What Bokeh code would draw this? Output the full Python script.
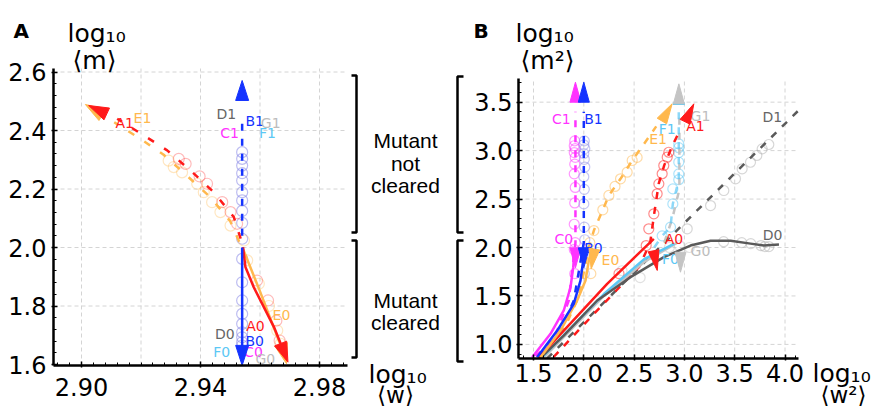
import numpy as np
from bokeh.plotting import figure
from bokeh.models import Range1d, FixedTicker, LinearAxis, PrintfTickFormatter
from bokeh.embed import file_html
from bokeh.resources import INLINE
from bokeh.core.properties import value

RED = "#ff1a1a"; ORANGE = "#ffb84d"; BLUE = "#1433ff"; MAGENTA = "#ff33ff"
LBLUE = "#5cc8f5"; DGRAY = "#5a5a5a"; LGRAY = "#c4c4c4"; CIRC = "#8f8fe8"
LABCOL = {"A": RED, "B": BLUE, "C": MAGENTA, "D": "#666666", "E": ORANGE, "F": LBLUE, "G": "#bdbdbd"}
SERCOL = {"A": RED, "B": BLUE, "C": MAGENTA, "D": DGRAY, "E": ORANGE, "F": LBLUE, "G": LGRAY}

# ---------------- Panel A data: x = log10<w>, y = log10<m> ----------------
a_vert_x = 2.954
a_blue_circ_y = [2.326, 2.303, 2.280, 2.254, 2.229, 2.189, 2.161, 2.125, 2.084, 2.030,
                 1.961, 1.881, 1.819, 1.773, 1.739, 1.710, 1.693, 1.676, 1.665]
a_red_circ_x = [2.9327, 2.9350, 2.9397, 2.9422, 2.9473, 2.9501, 2.9523, 2.9590, 2.9627, 2.9655, 2.9666]
a_red_circ_y = [2.303, 2.286, 2.243, 2.218, 2.155, 2.121, 2.081, 1.887, 1.819, 1.750, 1.682]
a_or_circ_x = [2.9293, 2.9310, 2.9338, 2.9389, 2.9411, 2.9439, 2.9467, 2.9501, 2.9546, 2.9557, 2.9596, 2.9630, 2.9658, 2.9669]
a_or_circ_y = [2.297, 2.275, 2.257, 2.218, 2.189, 2.155, 2.121, 2.075, 2.024, 1.956, 1.876, 1.800, 1.716, 1.671]

a_red_up_x = [2.9535, 2.9512, 2.9445, 2.9370, 2.9288, 2.9210, 2.9120]
a_red_up_y = [2.030, 2.104, 2.189, 2.260, 2.332, 2.383, 2.440]
a_or_up_x = [2.9530, 2.9500, 2.9430, 2.9355, 2.9275, 2.9200, 2.9110]
a_or_up_y = [2.020, 2.090, 2.175, 2.245, 2.318, 2.370, 2.428]
a_red_dn_x = [2.9543, 2.9551, 2.9579, 2.9613, 2.9647, 2.9670]
a_red_dn_y = [2.001, 1.933, 1.864, 1.796, 1.728, 1.670]
a_or_dn_x = [2.9543, 2.9600, 2.9660, 2.9676]
a_or_dn_y = [1.995, 1.850, 1.690, 1.650]
a_blue_dn_y = [2.000, 1.660]
a_blue_up_y = [2.040, 2.450]

a_head_tip_x = [2.9013, 2.9024, 2.9689, 2.9694, 2.954, 2.954]
a_head_tip_y = [2.489, 2.4855, 1.603, 1.608, 1.597, 2.571]
a_head_from_x = [2.9110, 2.9120, 2.9676, 2.9670, 2.954, 2.954]
a_head_from_y = [2.428, 2.440, 1.650, 1.670, 1.660, 2.450]
a_head_ser = ["E", "A", "E", "A", "B", "B"]

a_lab = ["A1", "E1", "D1", "B1", "G1", "C1", "F1", "E0", "A0", "D0", "B0", "F0", "C0", "G0"]
a_lab_x = [2.9145, 2.9205, 2.9487, 2.9582, 2.9636, 2.9498, 2.9625, 2.9672, 2.9585, 2.9482, 2.9582, 2.9471, 2.9578, 2.9618]
a_lab_y = [2.424, 2.444, 2.455, 2.434, 2.427, 2.393, 2.390, 1.768, 1.730, 1.703, 1.682, 1.644, 1.644, 1.620]

a_xticks = [2.90, 2.94, 2.98]
a_xgrid = [2.90, 2.92, 2.94, 2.96, 2.98]
a_yticks = [1.6, 1.8, 2.0, 2.2, 2.4, 2.6]

# ---------------- Panel B data: x = log10<w^2>, y = log10<m^2> ----------------
b_c_circ_x = [1.910, 1.905, 1.915, 1.905, 1.915, 1.910, 1.905, 1.915, 1.910, 1.905, 1.915, 1.905, 1.910]
b_c_circ_y = [3.10, 3.05, 3.02, 2.98, 2.93, 2.86, 2.76, 2.62, 2.46, 2.24, 2.05, 1.98, 1.73]
b_b_circ_x = [2.005, 2.000, 2.010, 2.000, 2.005, 2.010, 2.000, 2.005, 2.000, 2.005, 2.010, 2.000, 2.005]
b_b_circ_y = [3.10, 3.06, 3.02, 2.97, 2.91, 2.83, 2.73, 2.60, 2.45, 2.21, 2.08, 1.95, 1.73]
b_e_circ_x = [2.060, 2.100, 2.189, 2.249, 2.310, 2.365, 2.431, 2.481, 2.530, 2.070]
b_e_circ_y = [2.050, 2.175, 2.389, 2.537, 2.630, 2.709, 2.777, 2.898, 2.930, 1.730]
b_a_circ_x = [2.350, 2.620, 2.646, 2.696, 2.729, 2.746, 2.779, 2.795, 2.829, 2.845]
b_a_circ_y = [1.730, 2.020, 2.193, 2.348, 2.554, 2.657, 2.761, 2.846, 2.932, 2.983]
b_f_circ_x = [2.779, 2.862, 2.885, 2.885, 2.944, 2.944, 2.944, 2.944, 2.944, 2.944]
b_f_circ_y = [2.120, 2.210, 2.450, 2.605, 2.700, 2.760, 2.880, 2.980, 3.030, 3.070]
b_d_circ_x = [3.028, 3.260, 3.392, 3.508, 3.574, 3.657, 3.720, 3.773, 3.839, 3.390, 3.570, 3.660, 3.760, 3.800, 3.840]
b_d_circ_y = [2.193, 2.433, 2.588, 2.709, 2.812, 2.880, 2.950, 3.018, 3.063, 2.060, 2.050, 2.040, 2.020, 2.010, 2.010]
b_g_circ_x = [2.380, 2.560, 2.850, 2.950, 3.050]
b_g_circ_y = [1.760, 1.690, 2.000, 2.020, 2.000]

b_c_sol_x = [1.487, 1.669, 1.801, 1.868, 1.895, 1.905]
b_c_sol_y = [0.868, 1.109, 1.350, 1.590, 1.797, 1.950]
b_b_sol_x = [1.536, 1.736, 1.900, 1.967, 1.994, 2.000]
b_b_sol_y = [0.868, 1.143, 1.419, 1.659, 1.866, 1.970]
b_e_sol_x = [1.570, 1.768, 1.934, 2.017, 2.050, 2.070]
b_e_sol_y = [0.868, 1.143, 1.453, 1.659, 1.866, 1.950]
b_a_sol_x = [1.550, 2.232, 2.696]
b_a_sol_y = [0.860, 1.625, 2.090]
b_g_sol_x = [1.600, 2.200, 2.600, 2.930]
b_g_sol_y = [0.860, 1.500, 1.850, 2.050]
b_f_sol_x = [1.580, 2.200, 2.600, 2.900]
b_f_sol_y = [0.860, 1.520, 1.880, 2.040]
b_d_sol_x = [1.57, 1.80, 2.133, 2.464, 2.795, 3.06, 3.26, 3.46, 3.657, 3.79, 3.94]
b_d_sol_y = [0.86, 1.09, 1.453, 1.694, 1.90, 2.02, 2.07, 2.07, 2.04, 2.02, 2.03]

b_c_dash_x = [1.52, 1.70, 1.85, 1.917, 1.917]
b_c_dash_y = [0.88, 1.05, 1.45, 2.05, 3.40]
b_b_dash_x = [1.55, 1.75, 1.90, 2.0, 2.0]
b_b_dash_y = [0.88, 1.10, 1.45, 2.05, 3.40]
b_e_dash_x = [1.57, 1.80, 1.95, 2.05, 2.10, 2.189, 2.249, 2.365, 2.481, 2.60, 2.72]
b_e_dash_y = [0.88, 1.15, 1.49, 2.00, 2.175, 2.389, 2.537, 2.709, 2.898, 3.07, 3.25]
b_a_dash_x = [1.70, 2.15, 2.55, 2.66, 2.70, 2.745, 2.80, 2.88, 2.96]
b_a_dash_y = [0.87, 1.37, 1.80, 2.05, 2.35, 2.66, 2.85, 3.05, 3.22]
b_f_dash_x = [2.70, 2.779, 2.862, 2.885, 2.944, 2.944, 2.944]
b_f_dash_y = [2.00, 2.12, 2.21, 2.45, 2.70, 3.07, 3.483]
b_g_dash_x = [2.80, 2.88, 2.95, 2.95]
b_g_dash_y = [2.05, 2.30, 2.60, 3.40]
b_d_dash_x = [1.635, 4.13]
b_d_dash_y = [0.855, 3.41]

b_head_tip_x = [1.917, 2.0, 2.945, 2.878, 3.094, 1.917, 2.0, 2.073, 2.73, 2.961]
b_head_tip_y = [3.706, 3.706, 3.689, 3.483, 3.483, 1.79, 1.79, 1.78, 1.763, 1.745]
b_head_from_x = [1.917, 2.0, 2.945, 2.779, 3.018, 1.917, 2.0, 2.10, 2.696, 2.961]
b_head_from_y = [3.40, 3.40, 3.40, 3.31, 3.321, 2.0, 2.0, 1.95, 1.95, 1.95]
b_head_ser = ["C", "B", "G", "E", "A", "C", "B", "E", "A", "G"]

b_lab = ["C1", "B1", "G1", "D1", "F1", "A1", "E1", "C0", "B0", "E0", "A0", "F0", "G0", "D0"]
b_lab_x = [1.776, 2.096, 3.160, 3.873, 2.829, 3.110, 2.738, 1.801, 2.096, 2.265, 2.897, 2.862, 3.160, 3.876]
b_lab_y = [3.331, 3.321, 3.362, 3.342, 3.228, 3.259, 3.122, 2.090, 1.990, 1.866, 2.090, 1.886, 1.969, 2.124]

b_xticks = [1.5, 2.0, 2.5, 3.0, 3.5, 4.0]
b_yticks = [1.0, 1.5, 2.0, 2.5, 3.0, 3.5]

# ---------------- layout (pixel anchors of the two panels) ----------------
W, H = 872, 410
DASH = "7 8"
FONT = "DejaVu Sans"

A_X0, A_XP, A_SX = 2.90, 81, 2975.0
A_Y0, A_YP, A_SY = 2.0, 247, 292.5
A_BOX = (53, 347, 68, 365)
B_X0, B_XP, B_SX = 1.5, 533, 100.6
B_Y0, B_YP, B_SY = 2.0, 247, 96.9
B_BOX = (518, 798, 78, 358)


def fx(px, x0, xp, s):
    return x0 + (px - xp) / s


def fy(py, y0, yp, s):
    return y0 - (py - yp) / s


p = figure(width=W, height=H, x_range=Range1d(0, W), y_range=Range1d(H, 0),
           x_axis_type=None, y_axis_type=None, output_backend="svg", toolbar_location=None,
           min_border=0)
p.title.visible = False
p.outline_line_color = None
p.background_fill_color = "white"
p.border_fill_color = "white"

p.extra_x_ranges["ax"] = Range1d(fx(0, A_X0, A_XP, A_SX), fx(W, A_X0, A_XP, A_SX))
p.extra_y_ranges["ay"] = Range1d(fy(H, A_Y0, A_YP, A_SY), fy(0, A_Y0, A_YP, A_SY))
p.extra_x_ranges["bx"] = Range1d(fx(0, B_X0, B_XP, B_SX), fx(W, B_X0, B_XP, B_SX))
p.extra_y_ranges["by"] = Range1d(fy(H, B_Y0, B_YP, B_SY), fy(0, B_Y0, B_YP, B_SY))

A = dict(x_range_name="ax", y_range_name="ay")
B = dict(x_range_name="bx", y_range_name="by")

a_l, a_r = fx(A_BOX[0], A_X0, A_XP, A_SX), fx(A_BOX[1], A_X0, A_XP, A_SX)
a_t, a_b = fy(A_BOX[2], A_Y0, A_YP, A_SY), fy(A_BOX[3], A_Y0, A_YP, A_SY)
b_l, b_r = fx(B_BOX[0], B_X0, B_XP, B_SX), fx(B_BOX[1], B_X0, B_XP, B_SX)
b_t, b_b = fy(B_BOX[2], B_Y0, B_YP, B_SY), fy(B_BOX[3], B_Y0, B_YP, B_SY)

GRIDKW = dict(line_color="#d4d4d4", line_width=1, line_dash="4 3")
p.segment(a_xgrid, [a_b] * len(a_xgrid), a_xgrid, [a_t] * len(a_xgrid), **GRIDKW, **A)
p.segment([a_l] * 5, a_yticks[1:], [a_r] * 5, a_yticks[1:], **GRIDKW, **A)
p.segment(b_xticks, [b_b] * 6, b_xticks, [b_t] * 6, **GRIDKW, **B)
p.segment([b_l] * 6, b_yticks, [b_r] * 6, b_yticks, **GRIDKW, **B)


def add_axis(side, rng, loc, bounds, ticks, minor, fmt, standoff):
    ax = LinearAxis(fixed_location=loc, bounds=bounds, **rng)
    ax.ticker = FixedTicker(ticks=ticks, minor_ticks=minor)
    ax.formatter = PrintfTickFormatter(format=fmt)
    ax.axis_line_width = 2.5
    ax.axis_line_color = "black"
    ax.major_tick_in = 4
    ax.major_tick_out = 2
    ax.minor_tick_in = 3
    ax.minor_tick_out = 0
    ax.major_tick_line_width = 1.5
    ax.minor_tick_line_width = 1
    ax.major_label_text_font = FONT
    ax.major_label_text_font_size = "24px"
    ax.major_label_text_color = "black"
    ax.major_label_standoff = standoff
    p.add_layout(ax, side)


add_axis("below", A, a_b, (a_l, a_r), a_xticks,
         [round(v, 4) for v in np.arange(2.892, 2.989, 0.004)], "%.2f", 10)
add_axis("left", A, a_l, (a_b, a_t), a_yticks,
         [round(v, 3) for v in np.arange(1.6, 2.61, 0.04)], "%.1f", 5)
add_axis("below", B, b_b, (b_l, b_r), b_xticks,
         [round(v, 2) for v in np.arange(1.4, 4.11, 0.1)], "%.1f", 3)
add_axis("left", B, b_l, (b_b, b_t), b_yticks,
         [round(v, 2) for v in np.arange(0.9, 3.71, 0.1)], "%.1f", 4)


def heads(tx, ty, fxs, fys, sx, sy, L, hw):
    xs, ys = [], []
    for xt, yt, xf, yf in zip(tx, ty, fxs, fys):
        dx, dy = (xt - xf) * sx, (yt - yf) * sy
        n = np.hypot(dx, dy)
        ux, uy = dx / n, dy / n
        bx, by = xt * sx - L * ux, yt * sy - L * uy
        p1 = (bx - hw * uy, by + hw * ux)
        p2 = (bx + hw * uy, by - hw * ux)
        xs.append([xt, p1[0] / sx, p2[0] / sx])
        ys.append([yt, p1[1] / sy, p2[1] / sy])
    return xs, ys


# ---------------- Panel A marks ----------------
p.scatter([a_vert_x] * len(a_blue_circ_y), a_blue_circ_y, size=11, marker="circle",
          fill_color=None, line_color=CIRC, line_alpha=0.6, line_width=1.2, **A)
p.scatter(a_or_circ_x, a_or_circ_y, size=11, marker="circle", fill_color=None,
          line_color=ORANGE, line_alpha=0.35, line_width=1.2, **A)
p.scatter(a_red_circ_x, a_red_circ_y, size=11, marker="circle", fill_color=None,
          line_color=RED, line_alpha=0.3, line_width=1.2, **A)

p.line(a_or_up_x, a_or_up_y, line_color=ORANGE, line_width=2.5, line_dash="7 12", **A)
p.line(a_red_up_x, a_red_up_y, line_color=RED, line_width=2.5, line_dash="7 12", **A)
p.line([a_vert_x] * 2, a_blue_up_y, line_color=BLUE, line_width=2.5, line_dash=DASH, **A)
p.line(a_or_dn_x, a_or_dn_y, line_color=ORANGE, line_width=2.5, **A)
p.line(a_red_dn_x, a_red_dn_y, line_color=RED, line_width=2.5, **A)
p.line([a_vert_x] * 2, a_blue_dn_y, line_color=BLUE, line_width=2.5, **A)

p.text(a_lab_x, a_lab_y, text=a_lab, text_color=[LABCOL[s[0]] for s in a_lab],
       text_font=value(FONT), text_font_size="14px", text_align="center", text_baseline="middle", **A)

hx, hy = heads(a_head_tip_x, a_head_tip_y, a_head_from_x, a_head_from_y, A_SX, A_SY, 20, 6.5)
hc = [SERCOL[s] for s in a_head_ser]
p.patches(hx, hy, fill_color=hc, line_color=hc, line_width=1, **A)

# ---------------- Panel B marks ----------------
for cx, cy, s in [(b_g_circ_x, b_g_circ_y, "G"), (b_d_circ_x, b_d_circ_y, "D"),
                  (b_f_circ_x, b_f_circ_y, "F"), (b_a_circ_x, b_a_circ_y, "A"),
                  (b_e_circ_x, b_e_circ_y, "E"), (b_c_circ_x, b_c_circ_y, "C"),
                  (b_b_circ_x, b_b_circ_y, "B")]:
    col = {"D": "#b0b0b0", "B": CIRC}.get(s, SERCOL[s])
    p.scatter(cx, cy, size=10, marker="circle", fill_color=None, line_color=col,
              line_alpha=0.5, line_width=1.2, **B)

for lx, ly, s in [(b_d_dash_x, b_d_dash_y, "D"), (b_g_dash_x, b_g_dash_y, "G"),
                  (b_f_dash_x, b_f_dash_y, "F"), (b_a_dash_x, b_a_dash_y, "A"),
                  (b_e_dash_x, b_e_dash_y, "E"), (b_c_dash_x, b_c_dash_y, "C"),
                  (b_b_dash_x, b_b_dash_y, "B")]:
    p.line(lx, ly, line_color=SERCOL[s], line_width=2.5, line_dash=DASH,
           line_alpha=0.7 if s == "F" else 1.0, **B)

for lx, ly, s in [(b_g_sol_x, b_g_sol_y, "G"), (b_f_sol_x, b_f_sol_y, "F"),
                  (b_d_sol_x, b_d_sol_y, "D"), (b_a_sol_x, b_a_sol_y, "A"),
                  (b_e_sol_x, b_e_sol_y, "E"), (b_c_sol_x, b_c_sol_y, "C"),
                  (b_b_sol_x, b_b_sol_y, "B")]:
    p.line(lx, ly, line_color=SERCOL[s], line_width=2.5, **B)

tee_half = 6 / B_SX
p.line([b_f_dash_x[-1] - tee_half, b_f_dash_x[-1] + tee_half], [b_f_dash_y[-1]] * 2,
       line_color=LBLUE, line_width=2.5, **B)

p.text(b_lab_x, b_lab_y, text=b_lab, text_color=[LABCOL[s[0]] for s in b_lab],
       text_font=value(FONT), text_font_size="14px", text_align="center", text_baseline="middle", **B)

hx, hy = heads(b_head_tip_x, b_head_tip_y, b_head_from_x, b_head_from_y, B_SX, B_SY, 20, 5.5)
hc = [SERCOL[s] for s in b_head_ser]
p.patches(hx, hy, fill_color=hc, line_color=hc, line_width=1, **B)

# ---------------- brackets, titles (pixel coordinates) ----------------
p.multi_line([[351, 356, 356, 351], [351, 356, 356, 351], [463, 457, 457, 463], [463, 457, 457, 463]],
             [[75, 75, 232, 232], [240, 240, 357, 357], [76, 76, 232, 232], [240, 240, 361, 361]],
             line_color="black", line_width=2.5)
p.text([405, 405, 405, 405, 405], [140, 163, 185, 300, 322],
       text=["Mutant", "not", "cleared", "Mutant", "cleared"],
       text_font=value("Liberation Sans"), text_font_size="21px", text_align="center",
       text_baseline="alphabetic", text_color="black")
p.text([13, 473], [30, 30], text=["A", "B"], text_font=value(FONT), text_font_style="bold",
       text_font_size="20px", text_align="left", text_baseline="alphabetic", text_color="black")
p.text([67, 515, 368, 812], [33, 33, 374, 373], text=["log₁₀"] * 4, text_font=value(FONT),
       text_font_size="25px", text_align="left", text_baseline="alphabetic", text_color="black")
p.text([94, 547], [60, 60], text=["⟨m⟩", "⟨m²⟩"],
       text_font=value(FONT), text_font_size="25px", text_align="center",
       text_baseline="alphabetic", text_color="black")
p.text([395, 843], [394, 394], text=["⟨w⟩", "⟨w²⟩"],
       text_font=value(FONT), text_font_size="23px", text_align="center",
       text_baseline="alphabetic", text_color="black")

open("out.html", "w").write(file_html(p, INLINE))
